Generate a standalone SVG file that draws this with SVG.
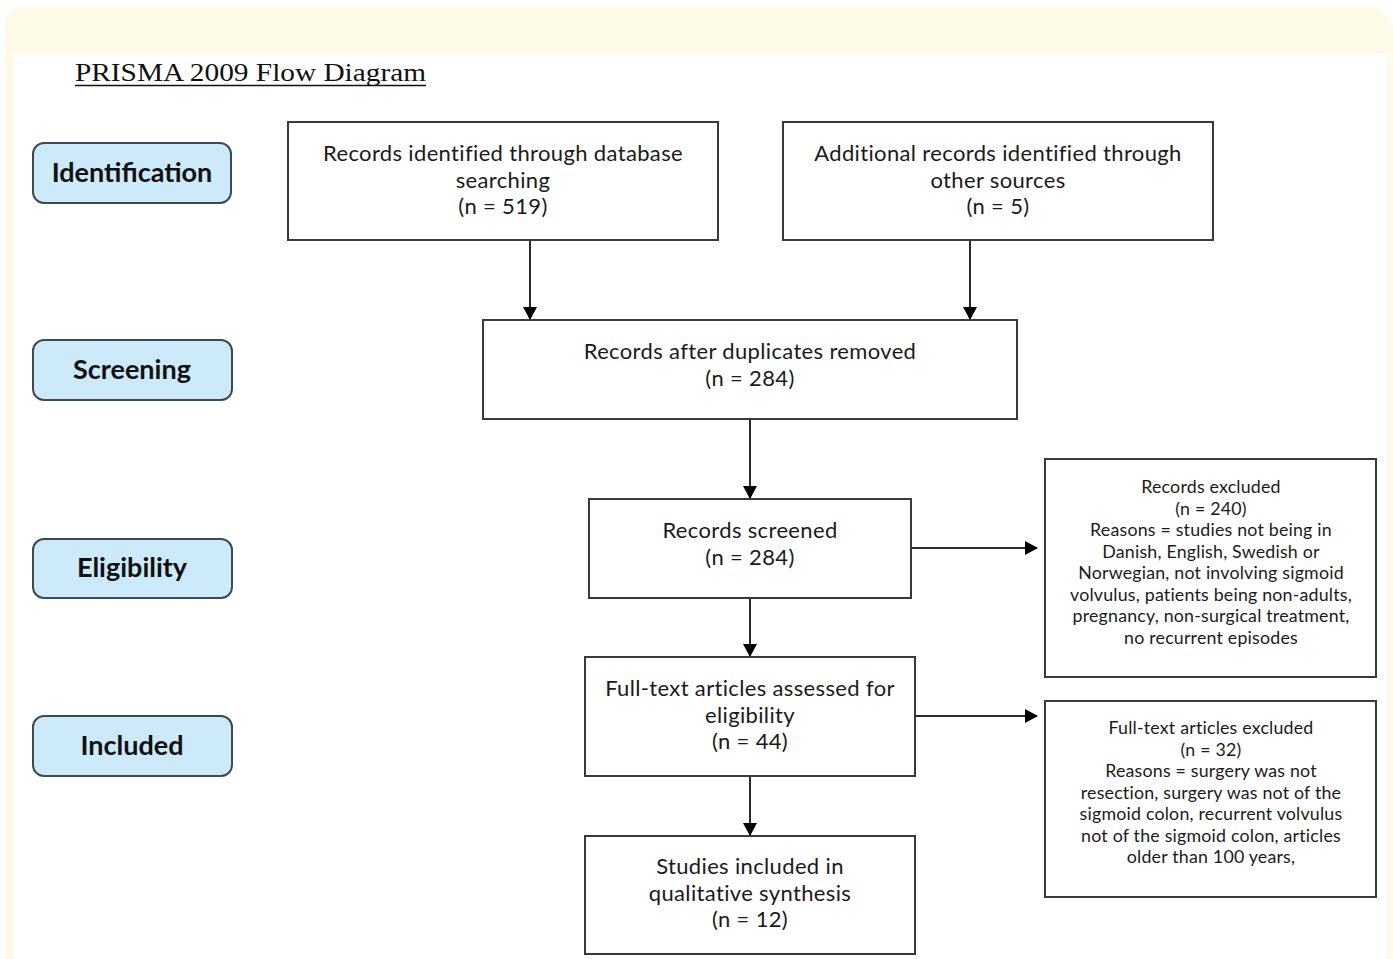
<svg xmlns="http://www.w3.org/2000/svg" width="1393" height="959" viewBox="0 0 1393 959">
<style>
.bg{fill:#FEFAE8}
.box{fill:#fff;stroke:#3a3a3a;stroke-width:2}
.stage{fill:#CDEAFB;stroke:#3f4a50;stroke-width:2}
.t{font-family:Lato,"Open Sans",sans-serif;font-size:22px;letter-spacing:0.35px;fill:#1a1a1a;text-anchor:middle}
.s{font-family:Lato,"Open Sans",sans-serif;font-size:17.8px;letter-spacing:0.2px;fill:#1a1a1a;text-anchor:middle}
.st{font-family:Lato,"Open Sans",sans-serif;font-size:27px;font-weight:bold;fill:#111;text-anchor:middle}
.c{stroke:#2a2a2a;stroke-width:2;fill:none;marker-end:url(#ah)}
</style>
<defs>
<marker id="ah" markerWidth="14" markerHeight="14" refX="12" refY="7" orient="auto" markerUnits="userSpaceOnUse">
<path d="M0,0 L13,7 L0,14 Z" fill="#000"/>
</marker>
</defs>
<rect x="0" y="0" width="1393" height="959" fill="#fff"/>
<path class="bg" d="M5,959 L5,27 Q5,7 25,7 L1370,7 Q1390,7 1393,30 L1393,959 L1387,959 L1387,53 L13,53 L13,959 Z"/>
<g id="title">
<text x="75" y="81" font-family="Liberation Serif,serif" font-size="26" fill="#111" textLength="351" lengthAdjust="spacingAndGlyphs">PRISMA 2009 Flow Diagram</text>
<line x1="75" y1="85.5" x2="426" y2="85.5" stroke="#111" stroke-width="1.5"/>
</g>
<g id="stage-identification"><rect class="stage" x="33" y="143" width="198" height="60" rx="11"/><text class="st" x="132" y="182">Identification</text></g>
<g id="stage-screening"><rect class="stage" x="33" y="340" width="199" height="60" rx="11"/><text class="st" x="132" y="379">Screening</text></g>
<g id="stage-eligibility"><rect class="stage" x="33" y="539" width="199" height="59" rx="11"/><text class="st" x="132" y="577">Eligibility</text></g>
<g id="stage-included"><rect class="stage" x="33" y="716" width="199" height="60" rx="11"/><text class="st" x="132" y="755">Included</text></g>

<g id="connectors">
<line class="c" x1="530" y1="241" x2="530" y2="319"/>
<line class="c" x1="970" y1="241" x2="970" y2="319"/>
<line class="c" x1="750" y1="420" x2="750" y2="498"/>
<line class="c" x1="750" y1="599" x2="750" y2="656"/>
<line class="c" x1="750" y1="777" x2="750" y2="835"/>
<line class="c" x1="912" y1="548" x2="1037" y2="548"/>
<line class="c" x1="916" y1="716" x2="1037" y2="716"/>
</g>

<g id="db-records"><rect class="box" x="288" y="122" width="430" height="118"/>
<text class="t" x="503" y="161">Records identified through database</text>
<text class="t" x="503" y="188">searching</text>
<text class="t" x="503" y="214">(n = 519)</text></g>
<g id="other-records"><rect class="box" x="783" y="122" width="430" height="118"/>
<text class="t" x="998" y="161">Additional records identified through</text>
<text class="t" x="998" y="188">other sources</text>
<text class="t" x="998" y="214">(n = 5)</text></g>
<g id="dedup"><rect class="box" x="483" y="320" width="534" height="99"/>
<text class="t" x="750" y="359">Records after duplicates removed</text>
<text class="t" x="750" y="386">(n = 284)</text></g>
<g id="screened"><rect class="box" x="589" y="499" width="322" height="99"/>
<text class="t" x="750" y="538">Records screened</text>
<text class="t" x="750" y="565">(n = 284)</text></g>
<g id="fulltext"><rect class="box" x="585" y="657" width="330" height="119"/>
<text class="t" x="750" y="696">Full-text articles assessed for</text>
<text class="t" x="750" y="723">eligibility</text>
<text class="t" x="750" y="749">(n = 44)</text></g>
<g id="included"><rect class="box" x="585" y="836" width="330" height="118"/>
<text class="t" x="750" y="874">Studies included in</text>
<text class="t" x="750" y="901">qualitative synthesis</text>
<text class="t" x="750" y="927">(n = 12)</text></g>
<g id="records-excluded"><rect class="box" x="1045" y="459" width="331" height="218"/>
<text class="s" x="1211" y="493">Records excluded</text>
<text class="s" x="1211" y="514.5">(n = 240)</text>
<text class="s" x="1211" y="536">Reasons = studies not being in</text>
<text class="s" x="1211" y="557.5">Danish, English, Swedish or</text>
<text class="s" x="1211" y="579">Norwegian, not involving sigmoid</text>
<text class="s" x="1211" y="600.5">volvulus, patients being non-adults,</text>
<text class="s" x="1211" y="622">pregnancy, non-surgical treatment,</text>
<text class="s" x="1211" y="643.5">no recurrent episodes</text></g>
<g id="fulltext-excluded"><rect class="box" x="1045" y="701" width="331" height="196"/>
<text class="s" x="1211" y="734">Full-text articles excluded</text>
<text class="s" x="1211" y="755.5">(n = 32)</text>
<text class="s" x="1211" y="777">Reasons = surgery was not</text>
<text class="s" x="1211" y="798.5">resection, surgery was not of the</text>
<text class="s" x="1211" y="820">sigmoid colon, recurrent volvulus</text>
<text class="s" x="1211" y="841.5">not of the sigmoid colon, articles</text>
<text class="s" x="1211" y="863">older than 100 years,</text></g>
</svg>
